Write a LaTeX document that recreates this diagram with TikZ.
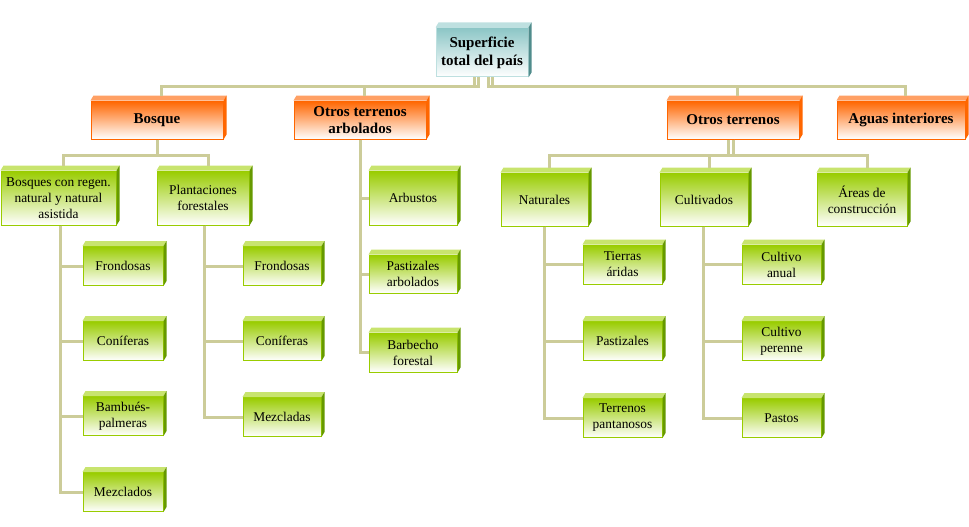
\documentclass[tikz,border=0pt]{standalone}
\usepackage{fontspec}
\setmainfont{Liberation Serif}
\usepackage{tikz}

\definecolor{linea}{RGB}{204,204,153}
\definecolor{naranja}{RGB}{255,102,0}
\definecolor{naranjaclaro}{RGB}{255,160,100}
\definecolor{verde}{RGB}{153,204,0}
\definecolor{verdeclaro}{RGB}{200,228,110}
\definecolor{verdeosc}{RGB}{102,153,0}
\definecolor{turquesa}{RGB}{140,198,198}
\definecolor{turquesaclaro}{RGB}{190,224,224}
\definecolor{turquesaosc}{RGB}{80,140,140}

\tikzset{
	enlace/.style = {draw = linea, line width = 3pt},
	caja/.style = {draw = #1, line width = 1pt, top color = #1, bottom color = white,
		align = center, inner sep = 1pt},
	raiz/.style = {caja = turquesa, draw = turquesaclaro, font = \bfseries\fontsize{15}{18}\selectfont},
	rama/.style = {caja = naranja, font = \bfseries\fontsize{15}{17}\selectfont,
		minimum height = 38pt},
	hoja/.style = {caja = verde, font = \fontsize{13.4}{16}\selectfont},
}

\begin{document}
\begin{tikzpicture}[x = 1pt, y = -1pt]

	\useasboundingbox (0,0) rectangle (969,527);

	% raiz
	\node[raiz, minimum width = 92pt, minimum height = 49pt] (raiz) at (482,52.5) {Superficie\\total del país};

	% segundo nivel
	\node[rama, minimum width = 132pt] (bosque) at (157,120) {Bosque};
	\node[rama, minimum width = 132pt] (arbol) at (360,120) {Otros terrenos\\arbolados};
	\node[rama, minimum width = 132pt] (otros) at (733,120) {Otros terrenos};
	\node[rama, minimum width = 128pt] (aguas) at (901,120) {Aguas interiores};

	% tercer nivel
	\node[hoja, minimum width = 115pt, minimum height = 54pt] (regen) at (58.5,198) {Bosques con regen.\\natural y natural\\asistida};
	\node[hoja, minimum width = 92pt, minimum height = 54pt] (plant) at (203,198) {Plantaciones\\forestales};
	\node[hoja, minimum width = 88pt, minimum height = 54pt] (arbustos) at (413,198) {Arbustos};
	\node[hoja, minimum width = 88pt, minimum height = 38pt] (pastarb) at (413,274) {Pastizales\\arbolados};
	\node[hoja, minimum width = 88pt, minimum height = 39pt] (barb) at (413,352.5) {Barbecho\\forestal};
	\node[hoja, minimum width = 87pt, minimum height = 53pt] (natur) at (544.5,199.5) {Naturales};
	\node[hoja, minimum width = 88pt, minimum height = 53pt] (cultiv) at (704,199.5) {Cultivados};
	\node[hoja, minimum width = 90pt, minimum height = 53pt] (areas) at (862,199.5) {Áreas de\\construcción};

	% cuarto nivel
	\node[hoja, minimum width = 80pt, minimum height = 39pt] (fron1) at (123,266) {Frondosas};
	\node[hoja, minimum width = 80pt, minimum height = 39pt] (coni1) at (123,341) {Coníferas};
	\node[hoja, minimum width = 80pt, minimum height = 39pt] (bamb) at (123,416) {Bambués-\\palmeras};
	\node[hoja, minimum width = 80pt, minimum height = 39pt] (mezc1) at (123,492) {Mezclados};

	\node[hoja, minimum width = 78pt, minimum height = 39pt] (fron2) at (282,266) {Frondosas};
	\node[hoja, minimum width = 78pt, minimum height = 39pt] (coni2) at (282,341) {Coníferas};
	\node[hoja, minimum width = 78pt, minimum height = 39pt] (mezc2) at (282,417) {Mezcladas};

	\node[hoja, minimum width = 79pt, minimum height = 39pt] (tierras) at (622.5,264.5) {Tierras\\áridas};
	\node[hoja, minimum width = 79pt, minimum height = 39pt] (pastiz) at (622.5,341) {Pastizales};
	\node[hoja, minimum width = 79pt, minimum height = 39pt] (pant) at (622.5,418) {Terrenos\\pantanosos};

	\node[hoja, minimum width = 79pt, minimum height = 39pt] (canual) at (781.5,264.5) {Cultivo\\anual};
	\node[hoja, minimum width = 79pt, minimum height = 39pt] (cperenne) at (781.5,341) {Cultivo\\perenne};
	\node[hoja, minimum width = 79pt, minimum height = 39pt] (pastos) at (781.5,418) {Pastos};

	% caras de arriba y de la derecha
	\foreach \n/\t/\s in {raiz/turquesaclaro/turquesaosc, bosque/naranjaclaro/naranja,
		arbol/naranjaclaro/naranja, otros/naranjaclaro/naranja, aguas/naranjaclaro/naranja,
		regen/verdeclaro/verdeosc, plant/verdeclaro/verdeosc, arbustos/verdeclaro/verdeosc,
		pastarb/verdeclaro/verdeosc, barb/verdeclaro/verdeosc, natur/verdeclaro/verdeosc,
		cultiv/verdeclaro/verdeosc, areas/verdeclaro/verdeosc, fron1/verdeclaro/verdeosc,
		coni1/verdeclaro/verdeosc, bamb/verdeclaro/verdeosc, mezc1/verdeclaro/verdeosc,
		fron2/verdeclaro/verdeosc, coni2/verdeclaro/verdeosc, mezc2/verdeclaro/verdeosc,
		tierras/verdeclaro/verdeosc, pastiz/verdeclaro/verdeosc, pant/verdeclaro/verdeosc,
		canual/verdeclaro/verdeosc, cperenne/verdeclaro/verdeosc, pastos/verdeclaro/verdeosc}{
		\fill[\t] (\n.north west) -- ++(3pt,5pt) -- ([shift = {(3pt,5pt)}]\n.north east)
			-- (\n.north east) -- cycle;
		\fill[\s] (\n.north east) -- ++(3pt,5pt) -- ([shift = {(3pt,5pt)}]\n.south east)
			-- (\n.south east) -- cycle;
	}

	% enlaces
	\draw[enlace] ([xshift = -7.3pt]raiz.south) -- ++(0,-9pt) -| ([shift = {(4pt,5pt)}]bosque.north);
	\draw[enlace] ([xshift = -3.3pt]raiz.south) -- ++(0,-9pt) -| ([shift = {(4pt,5pt)}]arbol.north);
	\draw[enlace] ([xshift = 6.7pt]raiz.south) -- ++(0,-9pt) -| ([shift = {(4pt,5pt)}]otros.north);
	\draw[enlace] ([xshift = 10pt]raiz.south) -- ++(0,-9pt) -| ([shift = {(4pt,5pt)}]aguas.north);

	\draw[enlace] (bosque.south) -- ++(0,-16pt) -| ([shift = {(5pt,5pt)}]regen.north);
	\draw[enlace] (bosque.south) -- ++(0,-16pt) -| ([shift = {(5pt,5pt)}]plant.north);
	\draw[enlace] ([xshift = -4.5pt]otros.south) -- ++(0,-16pt) -| ([shift = {(5pt,5pt)}]natur.north);
	\draw[enlace] (otros.south) -- ++(0,-16pt) -| ([shift = {(5pt,5pt)}]cultiv.north);
	\draw[enlace] (otros.south) -- ++(0,-16pt) -| ([shift = {(5pt,5pt)}]areas.north);

	\foreach \h in {fron1, coni1, bamb, mezc1}
		\draw[enlace] ([xshift = 1.5pt]regen.south) |- (\h.west);
	\foreach \h in {fron2, coni2, mezc2}
		\draw[enlace] ([xshift = 1.5pt]plant.south) |- (\h.west);
	\foreach \h in {arbustos, pastarb, barb}
		\draw[enlace] (arbol.south) |- (\h.west);
	\foreach \h in {tierras, pastiz, pant}
		\draw[enlace] (natur.south) |- (\h.west);
	\foreach \h in {canual, cperenne, pastos}
		\draw[enlace] ([xshift = -0.5pt]cultiv.south) |- (\h.west);

\end{tikzpicture}
\end{document}
